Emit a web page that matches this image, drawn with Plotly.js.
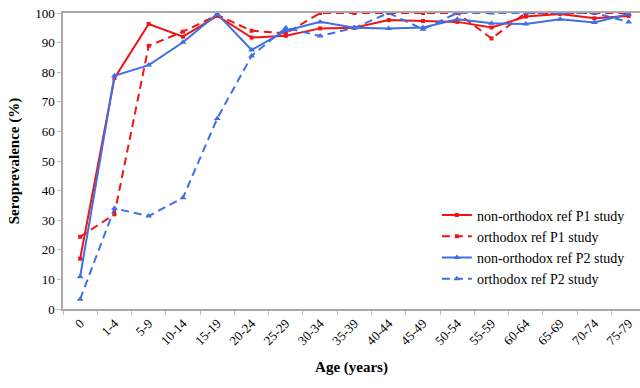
<!DOCTYPE html>
<html><head><meta charset="utf-8">
<script src="https://cdn.plot.ly/plotly-3.0.1.min.js"></script>
<style>body{margin:0;background:#fff}#c{width:640px;height:388px}</style>
</head><body><div id="c"></div>
<script>
const ageGroups = ["0","1-4","5-9","10-14","15-19","20-24","25-29","30-34","35-39","40-44","45-49","50-54","55-59","60-64","65-69","70-74","75-79"];
const nonOrthodoxP1 = [17, 78, 96.3, 92, 99, 91.7, 92.3, 94.8, 95, 97.6, 97.3, 97, 95.1, 98.8, 99.7, 98.2, 99];
const orthodoxP1 = [24.4, 32, 88.9, 93.7, 99.3, 94, 93.1, 100, 100, 100, 100, 100, 91.4, 100, 100, 100, 100];
const nonOrthodoxP2 = [10.9, 78.8, 82.4, 90.1, 99.7, 87.5, 94, 97, 95, 94.8, 95.1, 97.9, 96.5, 96.3, 97.9, 96.8, 99.7];
const orthodoxP2 = [3.3, 34, 31.4, 37.6, 64.4, 85.5, 95, 92.2, 95, 100, 94.5, 100, 100, 100, 100, 100, 97];
const yTicks = [0,10,20,30,40,50,60,70,80,90,100];

const RED = "#f01414", BLUE = "#3f6fe6";
const DASH = "8px,5px";
const font = "Liberation Serif";
function tr(name, y, color, dash, symbol, size){
  return {type:"scatter", mode:"lines+markers", name, x:ageGroups, y,
    line:{color, width:2, dash}, marker:{color, symbol, size}};
}
const data = [
  tr("non-orthodox ref P1 study", nonOrthodoxP1, RED, "solid", "square", 4),
  tr("orthodox ref P1 study", orthodoxP1, RED, DASH, "square", 4),
  tr("non-orthodox ref P2 study", nonOrthodoxP2, BLUE, "solid", "triangle-up", 6),
  tr("orthodox ref P2 study", orthodoxP2, BLUE, DASH, "triangle-up", 6)
];
const layout = {
  width:640, height:388,
  margin:{l:63, r:0, t:13, b:79},
  paper_bgcolor:"#fff", plot_bgcolor:"#fff",
  font:{family:font, color:"#000", size:13},
  showlegend:true,
  legend:{x:0.648, xanchor:"left", y:0.37, yanchor:"top", bgcolor:"rgba(0,0,0,0)",
    itemwidth:30, font:{family:font, size:14, color:"#000"}, tracegroupgap:0},
  xaxis:{type:"category", range:[-0.5, 16.33], tickangle:-45,
    tickson:"boundaries", ticks:"outside", ticklen:4, tickcolor:"#bbb",
    showline:true, linecolor:"#aaa", linewidth:1.5, mirror:true, showgrid:false,
    tickfont:{family:font, size:13},
    title:{text:"<b>Age (years)</b>", font:{family:font, size:15}, standoff:14}},
  yaxis:{range:[0,100], tickvals:yTicks, ticks:"outside", ticklen:4, tickcolor:"#bbb",
    showline:true, linecolor:"#aaa", linewidth:1.5, mirror:true, showgrid:false, zeroline:false,
    tickfont:{family:font, size:13},
    title:{text:"<b>Seroprevalence (%)</b>", font:{family:font, size:15}, standoff:12}}
};
Plotly.newPlot("c", data, layout, {displayModeBar:false});
</script></body></html>
